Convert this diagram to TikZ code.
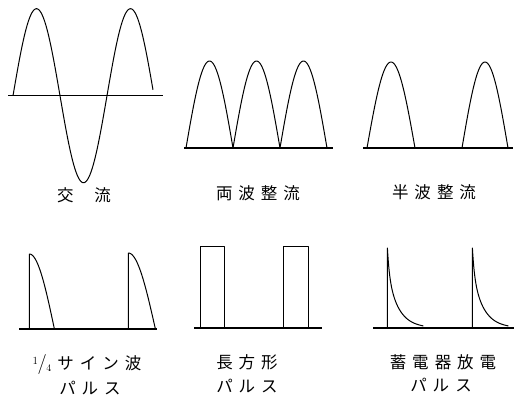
\documentclass[tikz,border=0pt]{standalone}
\usepackage{fontspec}
\newfontfamily\jp{Noto Sans CJK JP}
\newcommand\gapp{\hspace{6pt}}
\begin{document}
\begin{tikzpicture}[x=1pt,y=-1pt,
  wave/.style={line width=1pt,line join=round},
  axisline/.style={line width=1.4pt},
  lbl/.style={inner sep=0pt,font=\jp\fontsize{16.5}{19}\selectfont}]
\useasboundingbox[fill=white] (0,0) rectangle (514,397);
% AC
\draw[axisline] (8,95.7) -- (163,95.7);
\draw[wave] plot[domain=0:2.98,samples=150] ({13+47*\x},{95.7-87*sin(180*\x)});
\node[lbl] (ac) at (84,195) {交\hspace{21pt}流};
% full-wave
\draw[axisline] (184,148) -- (333,148);
\draw[wave] plot[domain=0:3,samples=181] ({186+47*\x},{148-87*abs(sin(180*\x))});
\node[lbl] (fw) at (258,193) {両\gapp 波\gapp 整\gapp 流};
% half-wave
\draw[axisline] (363,148) -- (513,148);
\draw[wave] plot[domain=0:1,samples=60] ({367+48*\x},{148-86*sin(180*\x)});
\draw[wave] plot[domain=0:1,samples=60] ({462+46*\x},{148-86*sin(180*\x)});
\node[lbl] (hw) at (434,192) {半\gapp 波\gapp 整\gapp 流};
% quarter sine pulse
\draw[axisline] (19,329) -- (157,329);
\draw[wave] (29.4,329) -- (29.4,254) -- plot[domain=0:1,samples=40] ({29.4+25*\x},{329-75*cos(90*\x)});
\draw[wave] (128.4,329) -- (128.4,253) -- plot[domain=0:1,samples=40] ({128.4+27*\x},{329-76*cos(90*\x)});
\node[lbl] (qs) at (87,364) {{\rmfamily\fontsize{20}{22}\selectfont\raisebox{4.5pt}{\fontsize{11}{12}\selectfont 1}\kern-0.5pt/\kern-0.5pt\raisebox{-2pt}{\fontsize{10}{11}\selectfont 4}}\gapp サ\gapp イ\gapp ン\gapp 波};
\node[lbl] (qsp) at (90,388) {パ\gapp ル\gapp ス};
% rectangular pulse
\draw[axisline] (194,328) -- (322,328);
\draw[wave] (200,328) -- (200,246) -- (224,246) -- (224,328);
\draw[wave] (283,328) -- (283,246) -- (308,246) -- (308,328);
\node[lbl] (rp) at (247,362) {長\gapp 方\gapp 形};
\node[lbl] (rpp) at (247,386) {パ\gapp ル\gapp ス};
% capacitor discharge pulse
\draw[axisline] (373,328) -- (514,328);
\draw[wave] (387.4,328) -- (387.4,248) -- plot[domain=0:36,samples=80] ({387.4+\x},{328-(25*exp(-\x/2)+55*exp(-\x/11))});
\draw[wave] (472.4,328) -- (472.4,248) -- plot[domain=0:36,samples=80] ({472.4+\x},{328-(25*exp(-\x/2)+55*exp(-\x/11))});
\node[lbl] (cd) at (443,362) {蓄\gapp 電\gapp 器\gapp 放\gapp 電};
\node[lbl] (cdp) at (441,385) {パ\gapp ル\gapp ス};
\end{tikzpicture}
\end{document}
